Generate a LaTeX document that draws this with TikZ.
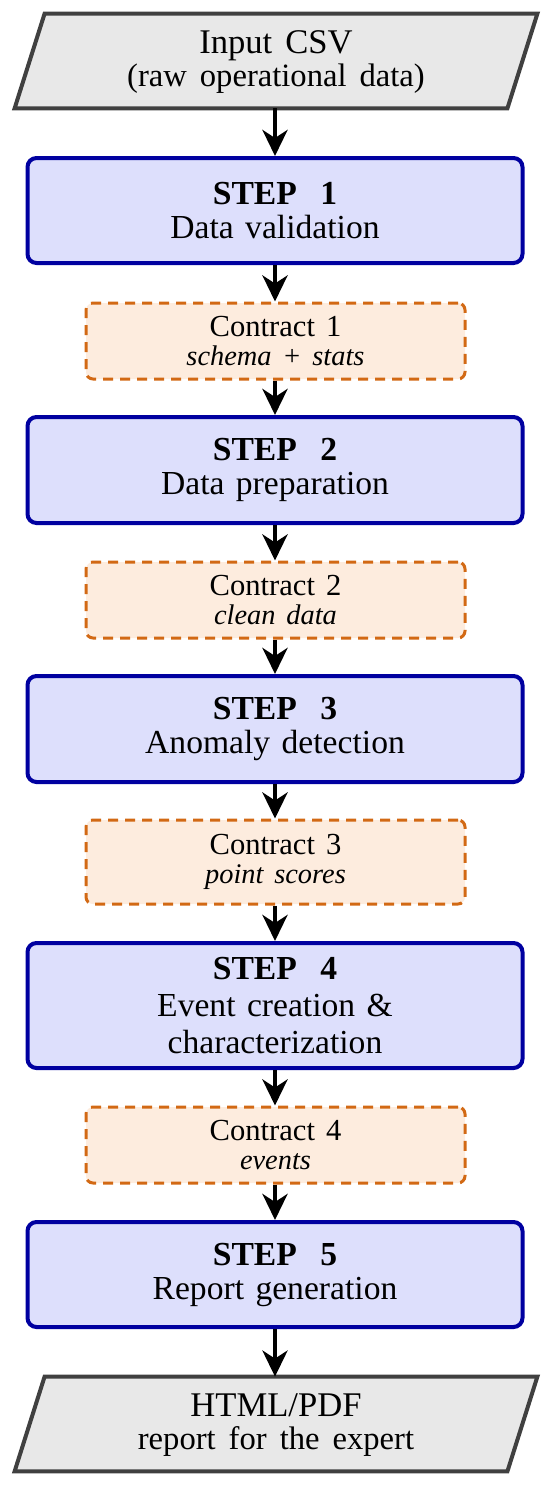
\documentclass[tikz,border=0pt]{standalone}
\usepackage{fontspec}
\setmainfont{Liberation Serif}
\usetikzlibrary{arrows.meta}
\definecolor{stepfill}{RGB}{221,223,252}
\definecolor{stepdraw}{RGB}{0,0,160}
\definecolor{ctfill}{RGB}{253,236,222}
\definecolor{ctdraw}{RGB}{210,105,20}
\definecolor{iofill}{RGB}{232,232,232}
\definecolor{iodraw}{RGB}{64,64,64}
\newcommand\fiosub{\fontsize{16.3}{16.5}\selectfont\spaceskip=0.4em}
\newcommand\fctsub{\fontsize{14.2}{14.8}\selectfont\spaceskip=0.38em}
\begin{document}
\begin{tikzpicture}[x=0.5pt,y=-0.5pt,
  stepbox/.style={draw=stepdraw, fill=stepfill, line width=2pt, rounded corners=4.5pt,
    minimum width=247.5pt, inner sep=0pt, align=center, font={\fontsize{16.8}{17}\selectfont\spaceskip=0.34em}},
  ctbox/.style={draw=ctdraw, fill=ctfill, line width=1.5pt, dash pattern=on 5pt off 3.5pt,
    rounded corners=3.5pt, minimum width=189.5pt, inner sep=0pt, align=center,
    font={\fontsize{15.3}{14.8}\selectfont\spaceskip=0.36em}},
  iobox/.style={inner sep=0pt, minimum width=246pt, minimum height=47pt, align=center,
    font={\fontsize{17.3}{16.5}\selectfont\spaceskip=0.38em}},
  iopath/.style={draw=iodraw, fill=iofill, line width=2pt},
  arr/.style={-{Stealth[length=13pt,width=12.5pt,inset=4pt]}, line width=2.2pt, black}
]
\useasboundingbox (0,0) rectangle (550,1485);

% input parallelogram
\node[iobox] (in) at (276,61) {};
\path[iopath] ([xshift=7.5pt]in.north west) -- ([xshift=7.5pt]in.north east)
  -- ([xshift=-7.5pt]in.south east) -- ([xshift=-7.5pt]in.south west) -- cycle;
\node[iobox] (intext) at (276,62) {Input CSV\\{\fiosub (raw operational data)}};

\node[stepbox, minimum height=52.5pt] (s1) at (275,210.5) {\textbf{STEP\hspace{0.7em}1}\\Data validation};
\node[ctbox, minimum height=38pt] (c1) at (275.5,341) {Contract 1\\{\fctsub\itshape schema + stats}};
\node[stepbox, minimum height=53pt] (s2) at (275,470) {\textbf{STEP\hspace{0.7em}2}\\Data preparation};
\node[ctbox, minimum height=38pt] (c2) at (275.5,600) {Contract 2\\{\fctsub\itshape clean data}};
\node[stepbox, minimum height=53pt] (s3) at (275,729) {\textbf{STEP\hspace{0.7em}3}\\Anomaly detection};
\node[ctbox, minimum height=42pt] (c3) at (275.5,862) {Contract 3\\{\fctsub\itshape point scores}};
\node[stepbox, minimum height=62.5pt, font={\fontsize{16.8}{18.3}\selectfont\spaceskip=0.34em}] (s4) at (275,1005.5) {\textbf{STEP\hspace{0.7em}4}\\Event creation \&\\characterization};
\node[ctbox, minimum height=38pt] (c4) at (275.5,1145) {Contract 4\\{\fctsub\itshape events}};
\node[stepbox, minimum height=52.5pt] (s5) at (275,1274.5) {\textbf{STEP\hspace{0.7em}5}\\Report generation};

% output parallelogram
\node[iobox] (out) at (276,1424) {};
\path[iopath] ([xshift=7.5pt]out.north west) -- ([xshift=7.5pt]out.north east)
  -- ([xshift=-7.5pt]out.south east) -- ([xshift=-7.5pt]out.south west) -- cycle;
\node[iobox] (outtext) at (276,1425) {HTML/PDF\\{\fiosub report for the expert}};

\draw[arr] (in.south -| s1.north) -- (s1.north);
\draw[arr] (s1.south) -- (c1.north -| s1.south);
\draw[arr] (c1.south -| s1.south) -- (s2.north);
\draw[arr] (s2.south) -- (c2.north -| s2.south);
\draw[arr] (c2.south -| s2.south) -- (s3.north);
\draw[arr] (s3.south) -- (c3.north -| s3.south);
\draw[arr] (c3.south -| s3.south) -- (s4.north);
\draw[arr] (s4.south) -- (c4.north -| s4.south);
\draw[arr] (c4.south -| s4.south) -- (s5.north);
\draw[arr] (s5.south) -- (out.north -| s5.south);
\end{tikzpicture}
\end{document}
